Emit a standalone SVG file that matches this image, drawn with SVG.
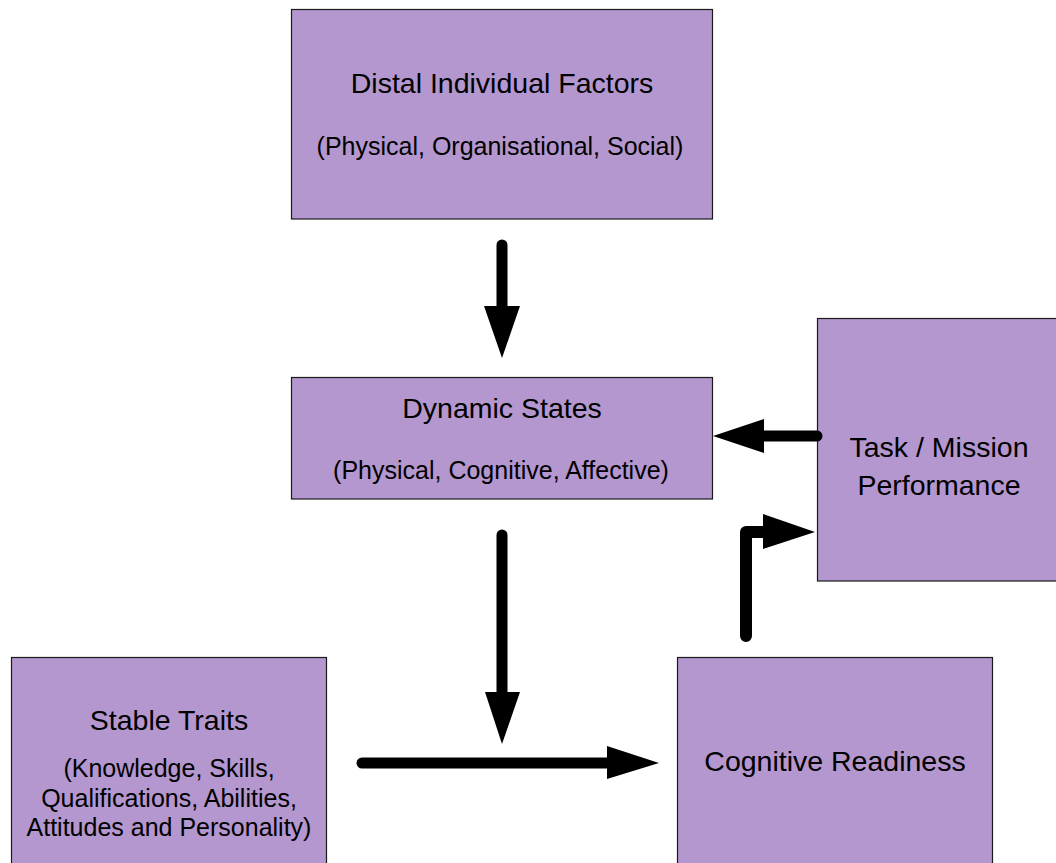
<svg xmlns="http://www.w3.org/2000/svg" width="1056" height="863" viewBox="0 0 1056 863">
  <style>
    .box { fill: #b497cf; stroke: #1a1a1a; stroke-width: 1.2; }
    .t { font-family: "Liberation Sans", Arial, sans-serif; fill: #000; text-anchor: middle; }
    .big { font-size: 28.5px; }
    .small { font-size: 25px; }
    .line { fill: none; stroke: #000; stroke-width: 11; stroke-linecap: round; stroke-linejoin: round; }
    .head { fill: #000; }
  </style>
  <rect width="1056" height="863" fill="#fff"/>

  <g id="distal">
    <rect class="box" x="291.5" y="9.5" width="421" height="209.5"/>
    <text class="t big" x="502" y="93">Distal Individual Factors</text>
    <text class="t small" x="500" y="155">(Physical, Organisational, Social)</text>
  </g>

  <g id="dynamic">
    <rect class="box" x="291.5" y="377.5" width="421" height="121.5"/>
    <text class="t big" x="502" y="418">Dynamic States</text>
    <text class="t small" x="501" y="479">(Physical, Cognitive, Affective)</text>
  </g>

  <g id="task">
    <rect class="box" x="817.5" y="318.5" width="244" height="262.5"/>
    <text class="t big" x="939" y="457">Task / Mission</text>
    <text class="t big" x="939" y="495">Performance</text>
  </g>

  <g id="stable">
    <rect class="box" x="11.5" y="657.5" width="315" height="220"/>
    <text class="t big" x="169" y="730">Stable Traits</text>
    <text class="t small" x="169" y="777">(Knowledge, Skills,</text>
    <text class="t small" x="169" y="807">Qualifications, Abilities,</text>
    <text class="t small" x="169" y="836">Attitudes and Personality)</text>
  </g>

  <g id="readiness">
    <rect class="box" x="677.5" y="657.5" width="315" height="220"/>
    <text class="t big" x="835" y="771">Cognitive Readiness</text>
  </g>

  <g id="connectors">
    <!-- distal to dynamic -->
    <line class="line" x1="502" y1="245" x2="502" y2="308"/>
    <polygon class="head" points="484,306 520,306 502,358"/>
    <!-- performance feedback to dynamic states -->
    <line class="line" x1="817" y1="436" x2="760" y2="436"/>
    <polygon class="head" points="764,419 764,453 713,436"/>
    <!-- dynamic states down to readiness path -->
    <line class="line" x1="502" y1="535" x2="502" y2="694"/>
    <polygon class="head" points="485,692 520,692 502,744"/>
    <!-- stable traits to readiness -->
    <line class="line" x1="362" y1="763" x2="610" y2="763"/>
    <polygon class="head" points="607,746 607,779 659,763"/>
    <!-- readiness up to performance -->
    <polyline class="line" style="stroke-width:12" points="746,636 746,532 766,532"/>
    <polygon class="head" points="763,514 763,549 815,532"/>
  </g>
</svg>
